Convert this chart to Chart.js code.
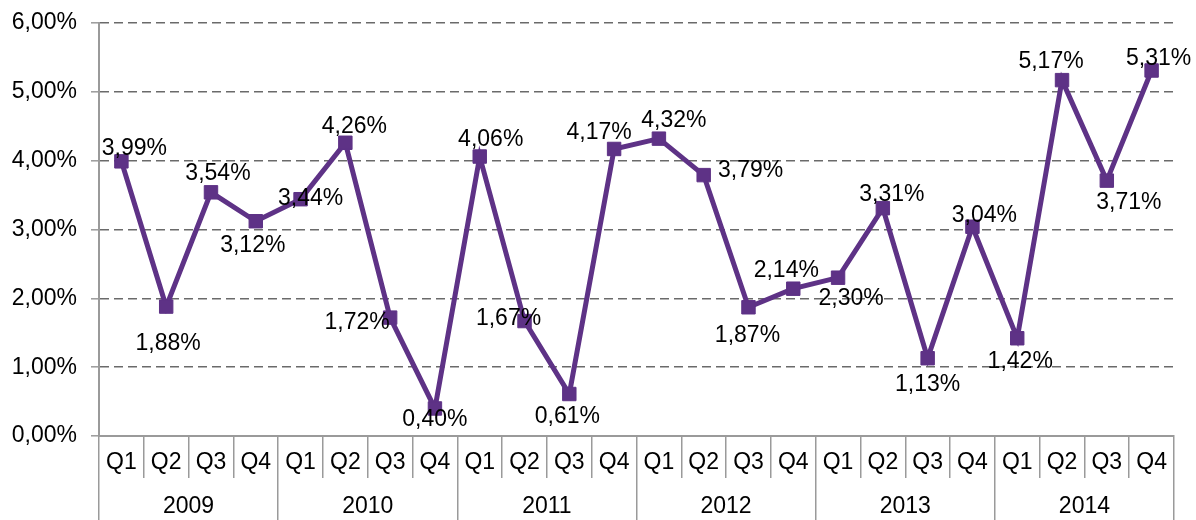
<!DOCTYPE html>
<html>
<head>
<meta charset="utf-8">
<script src="https://cdn.jsdelivr.net/npm/chart.js@4/dist/chart.umd.min.js"></script>
<style>
  body { margin: 0; background: #fff; }
  #wrap { width: 1196px; height: 520px; position: relative; }
</style>
</head>
<body>
<div id="wrap"><canvas id="lineChart"></canvas></div>
<script>
var quarters = ["Q1", "Q2", "Q3", "Q4", "Q1", "Q2", "Q3", "Q4", "Q1", "Q2", "Q3", "Q4",
                "Q1", "Q2", "Q3", "Q4", "Q1", "Q2", "Q3", "Q4", "Q1", "Q2", "Q3", "Q4"];
var years = ["2009", "2010", "2011", "2012", "2013", "2014"];
var rates = [3.99, 1.88, 3.54, 3.12, 3.44, 4.26, 1.72, 0.40, 4.06, 1.67, 0.61, 4.17,
             4.32, 3.79, 1.87, 2.14, 2.30, 3.31, 1.13, 3.04, 1.42, 5.17, 3.71, 5.31];
var yTicks = [0, 1, 2, 3, 4, 5, 6];

// where each value label sits relative to its point (dx, dy)
var labelOffsets = [[13, -13], [2, 37], [7, -19], [-3, 24], [10, -1], [9, -16], [-33, 5], [0, 11],
                    [11, -17], [-16, -2], [-2, 23], [-15, -16], [15, -18], [47, -4], [-1, 28], [-7, -18],
                    [13, 21], [9, -14], [0, 26], [12, -11], [3, 23], [-11, -18], [22, 22], [7, -12]];

var purple = '#5e3286';
var axisGrey = '#9a9a9a';

function fmt(v) {
    return v.toFixed(2).replace('.', ',') + '%';
}

Chart.defaults.font.family = "'Liberation Sans', Arial, sans-serif";
Chart.defaults.font.size = 23;
Chart.defaults.color = '#000';

var valueLabels = {
    id: 'valueLabels',
    afterDatasetsDraw: function(chart) {
        var ctx = chart.ctx;
        var meta = chart.getDatasetMeta(0);
        ctx.save();
        ctx.font = "23px 'Liberation Sans', Arial, sans-serif";
        ctx.fillStyle = '#000';
        ctx.textAlign = 'center';
        ctx.textBaseline = 'middle';
        meta.data.forEach(function(pt, i) {
            var off = labelOffsets[i];
            ctx.fillText(fmt(rates[i]), pt.x + off[0], pt.y + off[1]);
        });
        ctx.restore();
    }
};

var line = document.getElementById('lineChart');
var chart1 = new Chart(line, {
    type: 'line',
    data: {
        labels: quarters,
        datasets: [{
            data: rates,
            borderColor: purple,
            backgroundColor: purple,
            borderWidth: 5,
            lineTension: 0,
            pointStyle: 'rect',
            pointRadius: 9.5,
            pointBorderWidth: 1,
            pointBorderColor: purple,
            pointBackgroundColor: purple
        }]
    },
    options: {
        responsive: true,
        maintainAspectRatio: false,
        animation: false,
        layout: { padding: { top: 23, right: 22, bottom: 0, left: 0 } },
        plugins: {
            legend: { display: false },
            tooltip: { enabled: false }
        },
        scales: {
            y: {
                min: 0,
                max: 6,
                afterBuildTicks: function(scale) {
                    scale.ticks = yTicks.map(function(v) { return { value: v }; });
                },
                afterFit: function(scale) {
                    scale.width = 99;
                    scale.paddingTop = 0;
                    scale.paddingBottom = 0;
                },
                ticks: {
                    padding: 14,
                    callback: function(v) { return fmt(v); }
                },
                grid: {
                    color: '#6a6a6a',
                    lineWidth: 1.6,
                    tickLength: 8,
                    tickColor: axisGrey,
                    tickWidth: 1.5
                },
                border: { color: axisGrey, width: 2, dash: [9, 5] }
            },
            x: {
                offset: true,
                weight: 0,
                afterFit: function(scale) { scale.height = 42; },
                ticks: { padding: -29, maxRotation: 0, autoSkip: false },
                grid: {
                    offset: true,
                    drawOnChartArea: false,
                    tickLength: 42,
                    color: axisGrey,
                    lineWidth: 1.5
                },
                border: { color: axisGrey, width: 2 }
            },
            x2: {
                type: 'category',
                labels: years,
                position: 'bottom',
                offset: true,
                weight: 1,
                afterFit: function(scale) { scale.height = 42; },
                ticks: { padding: -27, maxRotation: 0, autoSkip: false },
                grid: {
                    offset: true,
                    drawOnChartArea: false,
                    tickLength: 42,
                    color: axisGrey,
                    lineWidth: 1.5
                },
                border: { display: false }
            }
        }
    },
    plugins: [valueLabels]
});
</script>
</body>
</html>
